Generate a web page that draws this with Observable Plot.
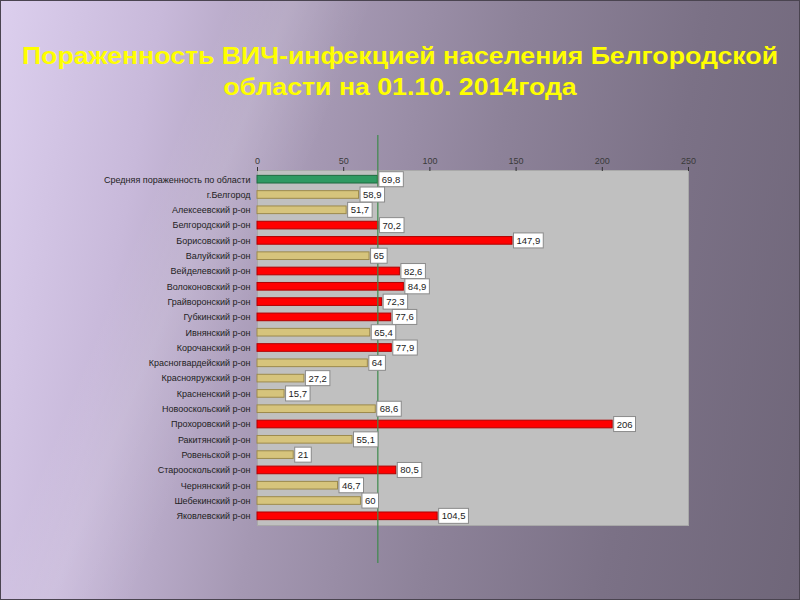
<!DOCTYPE html>
<html>
<head>
<meta charset="utf-8">
<script src="https://cdn.jsdelivr.net/npm/d3@7"></script>
<script src="https://cdn.jsdelivr.net/npm/@observablehq/plot@0.6"></script>
<style>
  html, body { margin: 0; padding: 0; }
  body {
    width: 800px; height: 600px; overflow: hidden; position: relative;
    background:
      linear-gradient(112deg, rgba(255,255,255,0) 0%, rgba(255,255,255,0) 22%, rgba(255,255,255,0.10) 28%, rgba(255,255,255,0) 36%),
      linear-gradient(100deg, #dccfee 0%, #c8b9da 18%, #a598b3 38%, #8d8299 58%, #7b7186 78%, #6f6679 100%);
    font-family: "Liberation Sans", Arial, sans-serif;
  }
  #frame { position: absolute; left: 0; top: 0; width: 798px; height: 598px; border: 1px solid #4a4450; pointer-events: none; }
  #title {
    position: absolute; top: 41px; left: 0; width: 800px; text-align: center;
    color: #ffff00; font-weight: bold; font-size: 23px; line-height: 31px;
    font-family: "Liberation Sans", Arial, sans-serif;
    transform: scaleX(1.16); transform-origin: 400px 0;
  }
  #chart { position: absolute; left: 0; top: 130px; }
  #chart svg { background: none !important; overflow: visible; }
</style>
</head>
<body>
<div id="frame"></div>
<div id="title">Пораженность ВИЧ-инфекцией населения Белгородской<br>области на 01.10. 2014года</div>
<div id="chart"></div>
<script>
const districts = [
  "Средняя пораженность по области",
  "г.Белгород",
  "Алексеевский р-он",
  "Белгородский р-он",
  "Борисовский р-он",
  "Валуйский р-он",
  "Вейделевский р-он",
  "Волоконовский р-он",
  "Грайворонский р-он",
  "Губкинский р-он",
  "Ивнянский р-он",
  "Корочанский р-он",
  "Красногвардейский р-он",
  "Краснояружский р-он",
  "Красненский р-он",
  "Новооскольский р-он",
  "Прохоровский р-он",
  "Ракитянский р-он",
  "Ровеньской р-он",
  "Старооскольский р-он",
  "Чернянский р-он",
  "Шебекинский р-он",
  "Яковлевский р-он"
];
const values = [69.8, 58.9, 51.7, 70.2, 147.9, 65, 82.6, 84.9, 72.3, 77.6, 65.4, 77.9, 64, 27.2, 15.7, 68.6, 206, 55.1, 21, 80.5, 46.7, 60, 104.5];
const xTicks = [0, 50, 100, 150, 200, 250];
const groupNames = ["avg", "below", "above"];
const groupFill = ["#2f9a62", "#d6c47c", "#ff0000"];
const groupStroke = ["#1f6a40", "#9c8a4c", "#b00000"];

const average = values[0];
const data = districts.map((name, i) => ({
  name,
  value: values[i],
  group: i === 0 ? "avg" : (values[i] > average ? "above" : "below")
}));

const fmt = v => String(v).replace(".", ",");

const barMarks = groupNames.map((g, gi) =>
  Plot.barX(data.filter(d => d.group === g), {
    x: "value", y: "name", fill: groupFill[gi], stroke: groupStroke[gi], strokeWidth: 1
  })
);

const chart = Plot.plot({
  width: 800,
  height: 470,
  marginTop: 40,
  marginBottom: 75,
  marginLeft: 257,
  marginRight: 112,
  style: { background: "none", fontFamily: "'Liberation Sans', Arial, sans-serif" },
  x: { domain: [0, 250] },
  y: { domain: districts, paddingInner: 0.5, paddingOuter: 0.35, round: false },
  marks: [
    Plot.frame({ fill: "#c0c0c0", stroke: "#a9a9a9" }),
    Plot.axisX({ anchor: "top", ticks: xTicks, tickSize: 4, tickPadding: 3, fontSize: 9, fill: "#3a3a3a", stroke: "#333", label: null }),
    Plot.axisY({ tickSize: 0, tickPadding: 7, fontSize: 9, fill: "#222", label: null }),
    ...barMarks,
    Plot.ruleX([average], {
      stroke: "#3e8a4c", strokeWidth: 1.2,
      render: (index, scales, values, dim, ctx, next) => {
        const g = next(index, scales, values, dim, ctx);
        g.querySelectorAll("line").forEach(l => {
          l.setAttribute("y1", dim.marginTop - 35);
          l.setAttribute("y2", dim.height - dim.marginBottom + 38);
        });
        return g;
      }
    }),
    Plot.text(data, {
      x: "value", y: "name", text: d => fmt(d.value), textAnchor: "start", dx: 4,
      fontSize: 9.5, fill: "#222",
      render: (index, scales, values, dim, ctx, next) => {
        const g = next(index, scales, values, dim, ctx);
        g.setAttribute("class", "value-labels");
        return g;
      }
    })
  ]
});
document.getElementById("chart").appendChild(chart);

// white boxes behind value labels
document.querySelectorAll("#chart g.value-labels text").forEach(t => {
  const b = t.getBBox();
  const r = document.createElementNS("http://www.w3.org/2000/svg", "rect");
  r.setAttribute("x", b.x - 3);
  r.setAttribute("y", b.y - 2);
  r.setAttribute("width", b.width + 6);
  r.setAttribute("height", b.height + 4);
  r.setAttribute("fill", "#ffffff");
  r.setAttribute("stroke", "#8a8a8a");
  r.setAttribute("stroke-width", "1");
  const tr = t.getAttribute("transform");
  if (tr) r.setAttribute("transform", tr);
  t.parentNode.insertBefore(r, t);
});
</script>
</body>
</html>
